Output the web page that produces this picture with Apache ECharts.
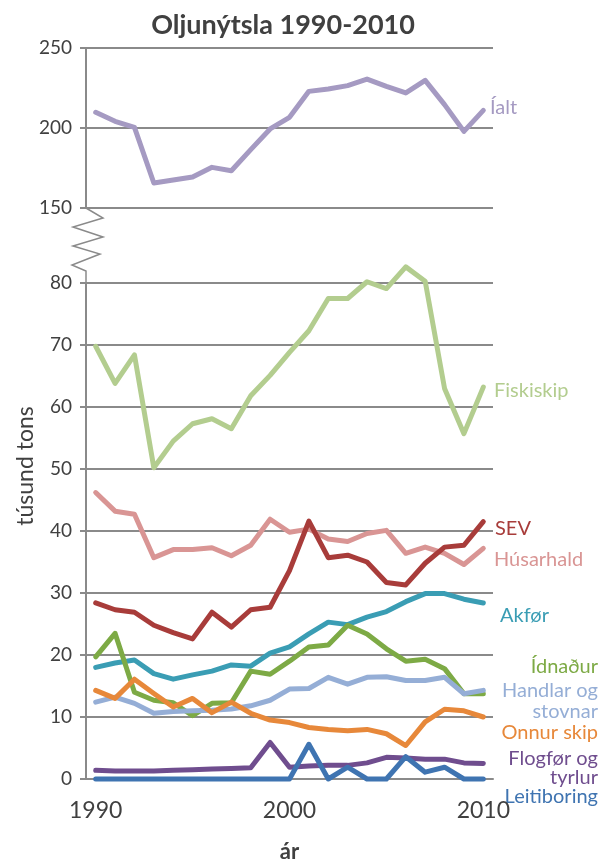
<!DOCTYPE html>
<html>
<head>
<meta charset="utf-8">
<script src="https://cdn.jsdelivr.net/npm/echarts@6/dist/echarts.min.js"></script>
<style>
  html, body { margin: 0; padding: 0; background: #fff; }
  #main { width: 606px; height: 868px; }
</style>
</head>
<body>
<div id="main"></div>
<script>
// ár
const years = ['1990','1991','1992','1993','1994','1995','1996','1997','1998','1999','2000',
  '2001','2002','2003','2004','2005','2006','2007','2008','2009','2010'];

// túsund tons
const ialt        = [209.8,204.2,200.4,165.6,167.5,169.4,175.4,173.3,186.5,199.4,206.7,222.9,224.4,226.5,230.6,226,221.9,229.8,214.6,197.9,211];
const fiskiskip   = [69.8,63.8,68.4,50.2,54.5,57.3,58.1,56.5,61.8,65.1,68.8,72.3,77.5,77.5,80.2,79.1,82.6,80.3,63.0,55.7,63.2];
const husarhald   = [46.2,43.2,42.7,35.7,37.0,37.0,37.3,36.0,37.7,41.9,39.8,40.3,38.7,38.3,39.6,40.1,36.4,37.4,36.4,34.6,37.2];
const sev         = [28.4,27.3,26.9,24.8,23.6,22.6,26.9,24.5,27.3,27.7,33.6,41.6,35.7,36.1,35.0,31.7,31.3,34.8,37.4,37.7,41.5];
const akfor       = [18.0,18.7,19.2,17.0,16.1,16.8,17.4,18.4,18.2,20.3,21.3,23.4,25.3,24.9,26.1,27.0,28.6,29.9,29.9,29.0,28.4];
const idnadur     = [19.7,23.5,14.0,12.7,12.3,10.2,12.2,12.3,17.4,16.9,19.0,21.3,21.6,24.8,23.4,21.0,19.0,19.3,17.8,13.75,13.75];
const handlar     = [12.4,13.2,12.2,10.6,10.9,11.0,11.1,11.3,11.8,12.7,14.5,14.6,16.4,15.3,16.4,16.5,15.9,15.9,16.4,13.75,14.3];
const onnurskip   = [14.3,13.0,16.1,13.8,11.6,13.0,10.7,12.4,10.6,9.5,9.1,8.3,8.0,7.8,8.0,7.3,5.4,9.2,11.25,11.0,10.0];
const flogfor     = [1.4,1.3,1.3,1.3,1.4,1.5,1.6,1.7,1.8,5.9,1.9,2.1,2.2,2.2,2.6,3.5,3.4,3.2,3.2,2.6,2.5];
const leitiboring = [0,0,0,0,0,0,0,0,0,0,0,5.6,0,1.9,0,0,3.6,1.1,1.9,0,0];

const topTicks = [150, 200, 250];
const bottomTicks = [0, 10, 20, 30, 40, 50, 60, 70, 80];

const font = 'Lato, "Open Sans", sans-serif';
const gridColor = '#8a8a8a';
const textColor = '#404040';

const chart = echarts.init(document.getElementById('main'), null, { renderer: 'canvas' });

function lineSeries(name, data, color, grid) {
  return {
    name: name,
    type: 'line',
    xAxisIndex: grid,
    yAxisIndex: grid,
    data: data,
    symbol: 'none',
    clip: false,
    lineStyle: { color: color, width: 5, cap: 'round', join: 'round' },
    itemStyle: { color: color }
  };
}

function endText(text, x, y, color, align) {
  return {
    type: 'text',
    x: x, y: y,
    style: {
      text: text,
      fill: color,
      font: '20px ' + font,
      textAlign: align || 'left',
      textVerticalAlign: 'middle'
    }
  };
}

const yAxisCommon = {
  type: 'value',
  axisLine: { show: true, lineStyle: { color: gridColor, width: 2 } },
  axisTick: { show: true, length: 6, lineStyle: { color: gridColor, width: 2 } },
  splitLine: { show: true, lineStyle: { color: gridColor, width: 2 } },
  axisLabel: { color: textColor, fontSize: 19, fontFamily: font, margin: 14 }
};

const option = {
  animation: false,
  backgroundColor: '#fff',
  title: {
    text: 'Oljunýtsla 1990-2010',
    left: 278,
    top: 7,
    textAlign: 'center',
    textStyle: { fontSize: 27, fontWeight: 'bold', color: textColor, fontFamily: font }
  },
  grid: [
    { left: 86, width: 407, top: 48, height: 160 },
    { left: 86, width: 407, top: 283, height: 511 }
  ],
  xAxis: [
    { gridIndex: 0, type: 'category', data: years, boundaryGap: true, show: false },
    {
      gridIndex: 1, type: 'category', data: years, boundaryGap: true,
      axisLine: { lineStyle: { color: gridColor, width: 2 } },
      axisTick: { interval: 4, length: 6, lineStyle: { color: gridColor, width: 2 } },
      axisLabel: { interval: 9, color: textColor, fontSize: 23, fontFamily: font, margin: 20 },
      name: 'ár',
      nameLocation: 'middle',
      nameGap: 62,
      nameTextStyle: { fontSize: 22, fontWeight: 'bold', color: textColor, fontFamily: font }
    }
  ],
  yAxis: [
    Object.assign({}, yAxisCommon, { gridIndex: 0, min: topTicks[0], max: topTicks[topTicks.length - 1], interval: 50 }),
    Object.assign({}, yAxisCommon, { gridIndex: 1, min: bottomTicks[0], max: bottomTicks[bottomTicks.length - 1], interval: 10 })
  ],
  series: [
    lineSeries('Íalt', ialt, '#A59AC2', 0),
    lineSeries('Fiskiskip', fiskiskip, '#B3CD8F', 1),
    lineSeries('Húsarhald', husarhald, '#D99594', 1),
    lineSeries('SEV', sev, '#A83C3A', 1),
    lineSeries('Akfør', akfor, '#3A9DB4', 1),
    lineSeries('Ídnaður', idnadur, '#7DAA45', 1),
    lineSeries('Handlar og stovnar', handlar, '#95AED6', 1),
    lineSeries('Onnur skip', onnurskip, '#E7883A', 1),
    lineSeries('Flogfør og tyrlur', flogfor, '#6F4D8E', 1),
    lineSeries('Leitiboring', leitiboring, '#3F74B1', 1)
  ],
  graphic: [
    // brotin ás
    {
      type: 'polyline',
      shape: { points: [[86,208],[103,218],[73,227],[103,237],[73,246],[100,254],[72,265],[86,271],[86,283]] },
      style: { stroke: gridColor, lineWidth: 1.5, fill: null }
    },
    {
      type: 'text',
      x: 26, y: 466,
      rotation: Math.PI / 2,
      style: {
        text: 'túsund tons',
        fill: textColor,
        font: '23px ' + font,
        textAlign: 'center',
        textVerticalAlign: 'middle'
      }
    },
    endText('Íalt', 490, 108, '#A59AC2'),
    endText('Fiskiskip', 494, 391, '#B3CD8F'),
    endText('SEV', 495, 529, '#A83C3A'),
    endText('Húsarhald', 494, 560, '#D99594'),
    endText('Akfør', 500, 616, '#3A9DB4'),
    endText('Ídnaður', 598, 667, '#7DAA45', 'right'),
    endText('Handlar og', 598, 691, '#95AED6', 'right'),
    endText('stovnar', 598, 712, '#95AED6', 'right'),
    endText('Onnur skip', 598, 733, '#E7883A', 'right'),
    endText('Flogfør og', 598, 759, '#6F4D8E', 'right'),
    endText('tyrlur', 598, 778, '#6F4D8E', 'right'),
    endText('Leitiboring', 598, 797, '#3F74B1', 'right')
  ]
};

chart.setOption(option);
</script>
</body>
</html>
